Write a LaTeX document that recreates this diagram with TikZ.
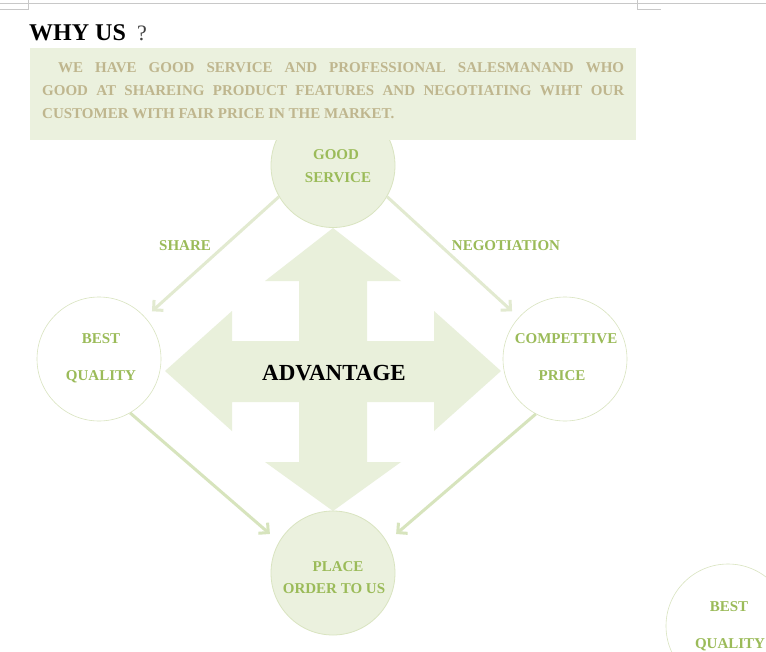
\documentclass[tikz,border=0pt]{standalone}
\usepackage{fontspec}
\setmainfont{Liberation Serif}
\usetikzlibrary{arrows.meta,calc}
\definecolor{boxfill}{HTML}{EBF1DE}
\definecolor{arrowfill}{HTML}{E9F0DB}
\definecolor{ringcol}{HTML}{D9E4C0}
\definecolor{labgreen}{HTML}{9BBB59}
\definecolor{tantext}{HTML}{BFB68E}
\definecolor{linklight}{HTML}{E2EAD0}
\definecolor{linkdark}{HTML}{D7E4BD}
\definecolor{markgray}{HTML}{C8C8C8}
\tikzset{
  fullcircle/.style={circle, minimum size=124pt, inner sep=0pt, fill=boxfill, draw=ringcol, line width=0.8pt},
  opencircle/.style={circle, minimum size=124pt, inner sep=0pt, fill=white, draw=ringcol, line width=0.6pt},
  lab/.style={anchor=base, inner sep=0pt, text=labgreen, font=\fontsize{15}{15}\selectfont\bfseries},
  body/.style={anchor=base west, inner sep=0pt, text=tantext, font=\fontsize{15}{15}\selectfont\bfseries},
  link/.style={line width=3pt, -{Straight Barb[length=7pt,width=14pt,line width=3pt]}},
}
\begin{document}
\begin{tikzpicture}[x=1pt,y=-1pt]
\useasboundingbox (0,0) rectangle (766,651);
\clip (0,0) rectangle (766,651);
\fill[white] (0,0) rectangle (766,651);
% page marks
\draw[markgray, line width=0.6pt] (0,3.5) -- (766,3.5);
\draw[markgray, line width=0.6pt] (0,9) -- (28,9) -- (28,0);
\draw[markgray, line width=0.6pt] (637,0) -- (637,9) -- (661,9);
% big four-way arrow
\fill[arrowfill] (333,228) -- (401,281) -- (367,281) -- (367,462) -- (401,462) -- (333,511)
  -- (265,462) -- (299,462) -- (299,281) -- (265,281) -- cycle;
\fill[arrowfill] (165,371) -- (232,311) -- (232,341) -- (434,341) -- (434,311) -- (501,371)
  -- (434,431) -- (434,402) -- (232,402) -- (232,431) -- cycle;
% circles
\node[fullcircle] (gs) at (333,165.5) {};
\node[fullcircle] (po) at (333,573) {};
\node[opencircle] (bq) at (99,359) {};
\node[opencircle] (cp) at (565,359) {};
\node[opencircle] (bq2) at (728,626) {};
% header box
\node[fill=boxfill, minimum width=606pt, minimum height=92pt, inner sep=0pt, anchor=north west] (box) at (30,48) {};
\node[anchor=base west, inner sep=0pt, font=\fontsize{24}{24}\selectfont\bfseries] (why) at (29,40) {WHY US};
\node[anchor=base west, inner sep=0pt, text=black!75, font=\fontsize{22}{22}\selectfont] (qm) at (137,40) {?};
\node[body] (l1) at (58,72) {\makebox[566pt][s]{WE HAVE GOOD SERVICE AND PROFESSIONAL SALESMANAND WHO}};
\node[body] (l2) at (42,95) {\makebox[582pt][s]{GOOD AT SHAREING PRODUCT FEATURES AND NEGOTIATING WIHT OUR}};
\node[body] (l3) at (42,118) {CUSTOMER WITH FAIR PRICE IN THE MARKET.};
% connectors
\draw[link, linklight, shorten >=9pt] (gs.210) -- (bq.42);
\draw[link, linklight, shorten >=9pt] (gs.-30) -- (cp.138);
\draw[link, linkdark, shorten >=12pt] (bq.-60) -- (po.150);
\draw[link, linkdark, shorten >=12pt] (cp.-118) -- (po.30);
% labels
\node[lab] (t1) at (336,159) {GOOD};
\node[lab] (t2) at (338,182) {SERVICE};
\node[lab] (t3) at (101,343) {BEST};
\node[lab] (t4) at (101,380) {QUALITY};
\node[lab] (t5) at (566,343) {COMPETTIVE};
\node[lab] (t6) at (562,380) {PRICE};
\node[lab] (t7) at (338,571) {PLACE};
\node[lab] (t8) at (334,593) {ORDER TO US};
\node[lab] (t9) at (729,611) {BEST};
\node[lab] (t10) at (730,648) {QUALITY};
\node[lab] (share) at (185,250) {SHARE};
\node[lab] (neg) at (506,250) {NEGOTIATION};
\node[anchor=base, inner sep=0pt, font=\fontsize{23}{23}\selectfont\bfseries] (adv) at (334,380) {ADVANTAGE};
\end{tikzpicture}
\end{document}
